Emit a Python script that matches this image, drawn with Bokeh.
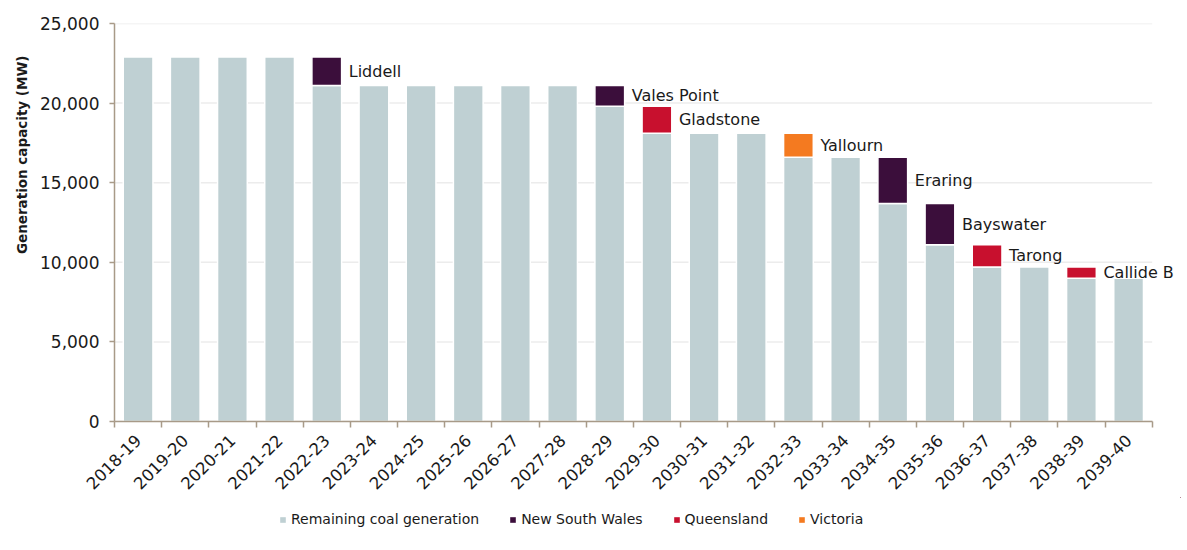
from bokeh.plotting import figure
from bokeh.models import (ColumnDataSource, FixedTicker, Legend, LegendItem,
                          NumeralTickFormatter, Label, Title)
from bokeh.layouts import column
from bokeh.embed import file_html
from bokeh.resources import INLINE

years = ["2018-19", "2019-20", "2020-21", "2021-22", "2022-23", "2023-24", "2024-25",
         "2025-26", "2026-27", "2027-28", "2028-29", "2029-30", "2030-31", "2031-32",
         "2032-33", "2033-34", "2034-35", "2035-36", "2036-37", "2037-38", "2038-39", "2039-40"]
remaining = [22900, 22900, 22900, 22900, 21100, 21100, 21100, 21100, 21100, 21100, 19800,
             18100, 18100, 18100, 16600, 16600, 13700, 11100, 9700, 9700, 9000, 9000]

# retirements
ret_years = ["2022-23", "2028-29", "2029-30", "2032-33", "2034-35", "2035-36", "2036-37", "2038-39"]
ret_station = ["Liddell", "Vales Point", "Gladstone", "Yallourn", "Eraring", "Bayswater", "Tarong", "Callide B"]
ret_state = ["New South Wales", "New South Wales", "Queensland", "Victoria",
             "New South Wales", "New South Wales", "Queensland", "Queensland"]
ret_mw = [1800, 1300, 1700, 1500, 2900, 2600, 1400, 700]

y_ticks = [0, 5000, 10000, 15000, 20000, 25000]

series = ["Remaining coal generation", "New South Wales", "Queensland", "Victoria"]
colors = {"Remaining coal generation": "#bfd0d3", "New South Wales": "#3b0e3b",
          "Queensland": "#c8102e", "Victoria": "#f47a20"}

FONT = "DejaVu Sans"
TXT = "#1a1a1a"
AXC = "#a89a88"

n = len(years)
xs = list(range(n))
sources = {"Remaining coal generation": ColumnDataSource(dict(x=xs, bottom=[0] * n, top=remaining))}
for st in series[1:]:
    idx = [i for i, s in enumerate(ret_state) if s == st]
    xx = [years.index(ret_years[i]) for i in idx]
    bottoms = [remaining[years.index(ret_years[i])] for i in idx]
    tops = [b + ret_mw[i] for b, i in zip(bottoms, idx)]
    sources[st] = ColumnDataSource(dict(x=xx, bottom=bottoms, top=tops))

# x range extends past the last category so the last station label has room
p = figure(width=1185, height=497, x_range=(-0.5, n + 0.1), y_range=(0, 25000),
           output_backend="svg", toolbar_location=None,
           min_border_left=114, min_border_right=5, min_border_top=23, min_border_bottom=75)
p.outline_line_color = None

# horizontal gridlines limited to the category span
p.segment(x0=-0.5, x1=n - 0.5, y0=y_ticks, y1=y_ticks, line_color="#ececec", line_width=1.5,
          level="underlay")

for s in series:
    p.vbar(x="x", top="top", bottom="bottom", width=0.63, source=sources[s],
           fill_color=colors[s], line_color="white", line_width=1.5)

for yr, name, mw in zip(ret_years, ret_station, ret_mw):
    i = years.index(yr)
    p.add_layout(Label(x=i, y=remaining[i] + mw / 2, text=name, x_offset=22,
                       text_font=FONT, text_font_size="16px", text_color=TXT,
                       text_baseline="middle", text_align="left"))

# axes
p.xaxis.bounds = (-0.5, n - 0.5)
p.xaxis.ticker = FixedTicker(ticks=xs, minor_ticks=[i - 0.5 for i in range(n + 1)])
p.xaxis.major_label_overrides = {i: y for i, y in enumerate(years)}
p.xaxis.major_label_orientation = 0.785398
p.xaxis.major_tick_out = 0
p.xaxis.major_tick_in = 0
p.xaxis.minor_tick_out = 6
p.xaxis.minor_tick_in = 0
p.xaxis.minor_tick_line_color = AXC
p.xaxis.minor_tick_line_width = 1.5
p.xaxis.axis_line_color = AXC
p.xaxis.axis_line_width = 1.5
p.xaxis.major_label_text_font = FONT
p.xaxis.major_label_text_font_size = "16.5px"
p.xaxis.major_label_text_color = TXT
p.xaxis.major_label_standoff = 10

p.yaxis.ticker = FixedTicker(ticks=y_ticks)
p.yaxis.formatter = NumeralTickFormatter(format="0,0")
p.yaxis.axis_line_color = AXC
p.yaxis.axis_line_width = 1.5
p.yaxis.major_tick_line_color = AXC
p.yaxis.major_tick_line_width = 1.5
p.yaxis.major_tick_out = 5
p.yaxis.major_tick_in = 0
p.yaxis.minor_tick_line_color = None
p.yaxis.major_label_text_font = FONT
p.yaxis.major_label_text_font_size = "17px"
p.yaxis.major_label_text_color = TXT
p.yaxis.major_label_standoff = 10

p.add_layout(Title(text="Generation capacity (MW)", align="right", offset=32,
                   text_font=FONT, text_font_style="bold", text_font_size="13.5px",
                   text_color=TXT, standoff=16), "left")

p.grid.visible = False

# legend strip below the chart (its renderers use the same data, kept outside the visible range)
lg = figure(width=1185, height=45, x_range=(-3, -2), y_range=(-3, -2),
            output_backend="svg", toolbar_location=None,
            x_axis_location=None, y_axis_location=None,
            min_border_left=0, min_border_right=0, min_border_top=0, min_border_bottom=0)
lg.grid.visible = False
lg.outline_line_color = None
items = []
for s in series:
    r = lg.vbar(x="x", top="top", bottom="bottom", width=0.63, source=sources[s],
                fill_color=colors[s], line_color=None)
    items.append(LegendItem(label=s, renderers=[r]))
legend = Legend(items=items, orientation="horizontal", location=(165, 15), background_fill_alpha=0,
                border_line_color=None, label_text_font=FONT, label_text_font_size="14px",
                label_text_color=TXT, glyph_width=7, glyph_height=7, spacing=30,
                label_standoff=5, margin=0, padding=4)
lg.add_layout(legend, "center")

open("out.html", "w").write(file_html(column(p, lg, spacing=0), INLINE))
